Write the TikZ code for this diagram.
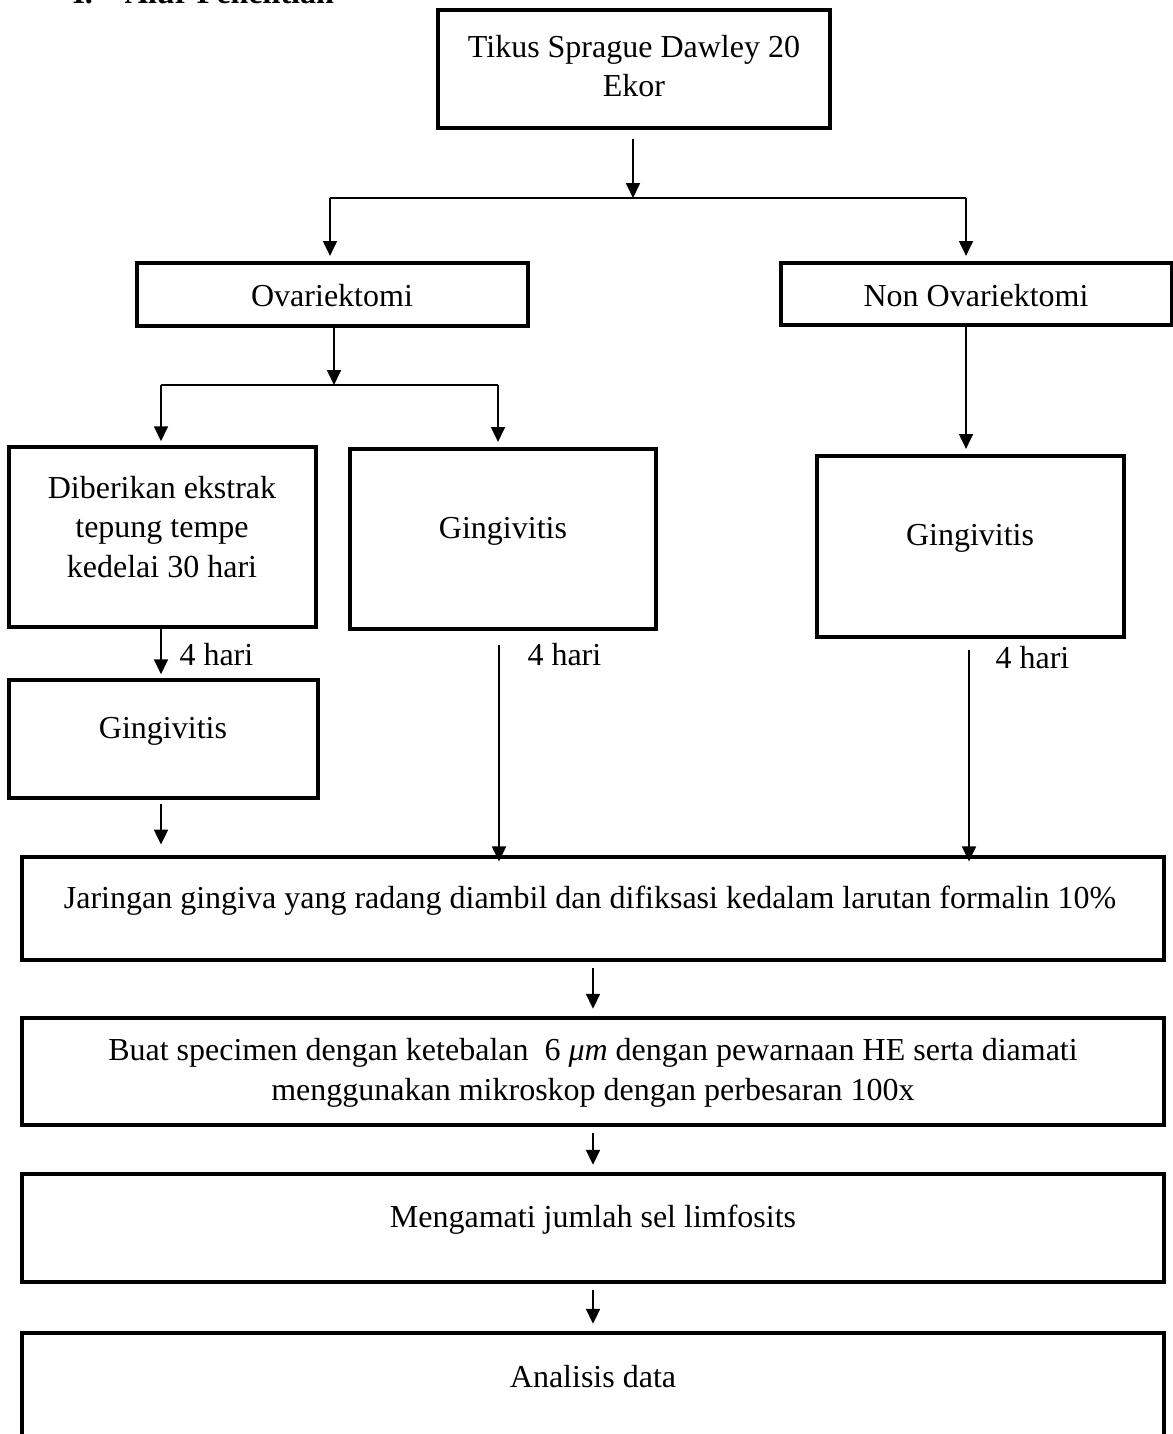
\documentclass[tikz,border=0pt]{standalone}
\usepackage{fontspec}
\setmainfont{Liberation Serif}
\usetikzlibrary{arrows.meta,fit}

\begin{document}
\begin{tikzpicture}[x=0.375pt, y=-0.375pt,
    box/.style={draw, line width=1.3pt, inner sep=0pt},
    txt/.style={font=\fontsize{12}{14.8}\selectfont, inner sep=0pt, align=center},
    conn/.style={line width=0.8pt},
    arr/.style={line width=0.8pt, -{Triangle[length=5.6pt, width=5.2pt]}}]
  \useasboundingbox (0,0) rectangle (1173,1434);

  % heading (cut off by the top edge)
  \node[font=\bfseries\fontsize{12}{14.8}\selectfont, inner sep=0pt, anchor=base west] (judul) at (72,4) {I.\hspace{1em}Alur Penelitian};

  % boxes
  \node[box, fit={(438,10) (830,128)}]   (tikus) {};
  \node[box, fit={(137,263) (528,326)}]  (ovar) {};
  \node[box, fit={(781,263) (1172,325)}] (non) {};
  \node[box, fit={(9,447) (316,627)}]    (dib) {};
  \node[box, fit={(350,449) (656,629)}]  (gingA) {};
  \node[box, fit={(817,456) (1124,637)}] (gingB) {};
  \node[box, fit={(9,680) (318,798)}]    (gingC) {};
  \node[box, fit={(22,857) (1164,960)}]  (jar) {};
  \node[box, fit={(22,1018) (1164,1125)}] (buat) {};
  \node[box, fit={(22,1174) (1164,1282)}] (meng) {};
  \node[box, fit={(22,1333) (1164,1480)}] (anal) {};

  % box texts
  \node[txt] (tikusT) at (634,66) {Tikus Sprague Dawley 20\\Ekor};
  \node[txt, anchor=base] (ovarT) at (332,306) {Ovariektomi};
  \node[txt, anchor=base] (nonT) at (976,306) {Non Ovariektomi};
  \node[txt] (dibT) at (162,527) {Diberikan ekstrak\\tepung tempe\\kedelai 30 hari};
  \node[txt, anchor=base] (gingAT) at (503,538) {Gingivitis};
  \node[txt, anchor=base] (gingBT) at (970,545) {Gingivitis};
  \node[txt, anchor=base] (gingCT) at (163,738) {Gingivitis};
  \node[txt, anchor=base] (jarT) at (590,908) {Jaringan gingiva yang radang diambil dan difiksasi kedalam larutan formalin 10\%};
  \node[txt] (buatT) at (593,1073) {Buat specimen dengan ketebalan\ \ 6 \textit{μm} dengan pewarnaan HE serta diamati\\menggunakan mikroskop dengan perbesaran 100x};
  \node[txt, anchor=base] (mengT) at (593,1227) {Mengamati jumlah sel limfosits};
  \node[txt, anchor=base] (analT) at (593,1387) {Analisis data};

  % split points and columns
  \coordinate (s1)  at (633,198);
  \coordinate (s1L) at (330,198);
  \coordinate (s1R) at (966,198);
  \coordinate (s2)  at (334,385);
  \coordinate (s2L) at (161,385);
  \coordinate (s2R) at (498,385);
  \coordinate (colL) at (161,0);
  \coordinate (colC) at (593,0);
  \coordinate (m1)  at (499,645);
  \coordinate (r1)  at (969,650);

  % first split
  \draw[arr, shorten <=3.5pt] (tikus.south -| s1) -- (s1);
  \draw[conn] (s1L) -- (s1R);
  \draw[arr, shorten >=2pt] (s1L) -- (ovar.north -| s1L);
  \draw[arr, shorten >=2pt] (s1R) -- (non.north -| s1R);

  % second split
  \draw[arr] (ovar.south -| s2) -- (s2);
  \draw[conn] (s2L) -- (s2R);
  \draw[arr, shorten >=1.5pt] (s2L) -- (dib.north -| s2L);
  \draw[arr, shorten >=2pt] (s2R) -- (gingA.north -| s2R);
  \draw[arr, shorten >=2pt] (non.south -| s1R) -- (gingB.north -| s1R);

  % 4 hari
  \draw[arr, shorten >=1.5pt] (dib.south -| colL) -- (gingC.north -| colL);
  \node[txt, anchor=base west] (hariL) at (179,665) {4 hari};
  \draw[arr, shorten >=-2.3pt] (m1) -- (jar.north -| m1);
  \node[txt, anchor=base west] (hariM) at (527,665) {4 hari};
  \draw[arr, shorten >=-2.3pt] (r1) -- (jar.north -| r1);
  \node[txt, anchor=base west] (hariR) at (995,668) {4 hari};
  \draw[arr, shorten <=1.5pt, shorten >=4pt] (gingC.south -| colL) -- (jar.north -| colL);

  % lower chain
  \foreach \a/\b in {jar/buat, buat/meng, meng/anal}
    \draw[arr, shorten <=2.2pt, shorten >=2.8pt] (\a.south -| colC) -- (\b.north -| colC);
\end{tikzpicture}
\end{document}
